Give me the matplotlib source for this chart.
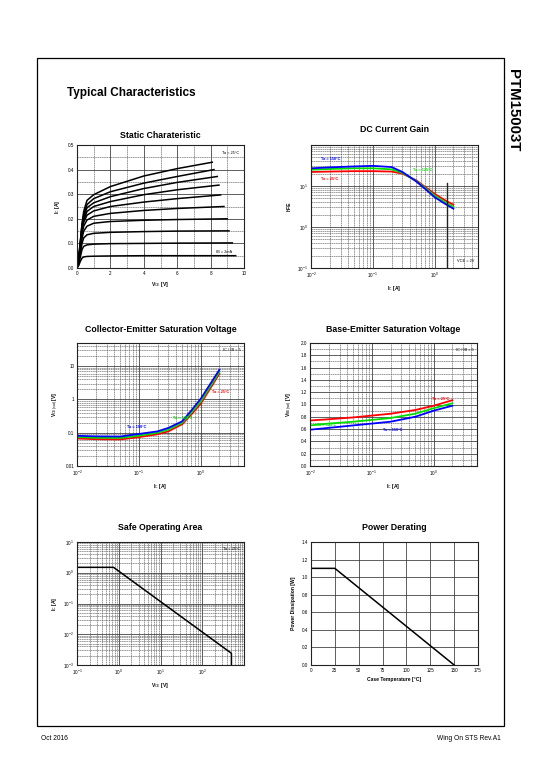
#Typical Characteristics page for PTM15003T
import numpy as np
import matplotlib
matplotlib.use("Agg")
import matplotlib.pyplot as plt
from matplotlib.patches import Rectangle
from matplotlib.ticker import LogLocator, NullFormatter, MultipleLocator, FixedLocator

plt.rcParams['font.family'] = ['Liberation Sans', 'DejaVu Sans']
plt.rcParams['mathtext.fontset'] = 'custom'
plt.rcParams['mathtext.rm'] = 'Liberation Sans'
plt.rcParams['mathtext.it'] = 'Liberation Sans:italic'
plt.rcParams['mathtext.bf'] = 'Liberation Sans:bold'

#Static characteristic, Ic vs Vce for Ib = 2..20 mA
vce = [0, 0.1, 0.2, 0.3, 0.4, 0.6, 1, 2, 4, 6]
ib_ma = [2, 4, 6, 8, 10, 12, 14, 16, 18, 20]
ic_static = [
    [0, 0.010, 0.027, 0.040, 0.045, 0.047, 0.048, 0.049, 0.050, 0.050],
    [0, 0.015, 0.045, 0.075, 0.088, 0.094, 0.097, 0.099, 0.100, 0.101],
    [0, 0.020, 0.060, 0.100, 0.122, 0.135, 0.141, 0.145, 0.148, 0.150],
    [0, 0.025, 0.070, 0.120, 0.150, 0.170, 0.182, 0.189, 0.194, 0.197],
    [0, 0.030, 0.080, 0.140, 0.170, 0.195, 0.210, 0.222, 0.234, 0.242],
    [0, 0.030, 0.090, 0.150, 0.185, 0.215, 0.232, 0.250, 0.268, 0.282],
    [0, 0.035, 0.095, 0.160, 0.195, 0.230, 0.250, 0.270, 0.298, 0.318],
    [0, 0.035, 0.100, 0.170, 0.205, 0.245, 0.265, 0.290, 0.323, 0.348],
    [0, 0.040, 0.105, 0.175, 0.215, 0.258, 0.282, 0.310, 0.345, 0.372],
    [0, 0.040, 0.110, 0.180, 0.230, 0.275, 0.298, 0.331, 0.374, 0.404],
]
vce_end = [9.5, 9.3, 9.1, 9.0, 8.8, 8.6, 8.5, 8.4, 8.2, 8.1]
ic_end = [0.050, 0.102, 0.151, 0.200, 0.250, 0.297, 0.337, 0.372, 0.400, 0.430]

#DC current gain
ic_hfe = [0.01, 0.02, 0.05, 0.1, 0.2, 0.3, 0.5, 0.7, 1, 1.5, 2]
hfe_150 = [27, 28.5, 30, 31, 29, 22, 13, 8.5, 5.3, 3.6, 2.8]
hfe_125 = [25, 26, 27, 27, 25.5, 21, 13.3, 9, 5.8, 3.9, 3.1]
hfe_25 = [22, 22.5, 23, 23, 22.5, 20, 13.8, 9.5, 6.4, 4.4, 3.5]

#Collector-emitter saturation voltage
ic_ce = [0.01, 0.02, 0.05, 0.1, 0.2, 0.3, 0.5, 0.7, 1, 1.5, 2]
vcesat_25 = [0.067, 0.064, 0.063, 0.074, 0.090, 0.11, 0.18, 0.35, 0.75, 2.5, 6.0]
vcesat_125 = [0.074, 0.071, 0.070, 0.082, 0.100, 0.125, 0.20, 0.40, 0.88, 2.9, 6.8]
vcesat_150 = [0.081, 0.078, 0.077, 0.092, 0.110, 0.14, 0.22, 0.46, 1.05, 3.4, 7.8]

#Base-emitter saturation voltage
ic_be = [0.01, 0.02, 0.05, 0.1, 0.2, 0.5, 1, 2]
vbesat_25 = [0.74, 0.76, 0.79, 0.82, 0.85, 0.91, 0.98, 1.07]
vbesat_125 = [0.66, 0.69, 0.72, 0.75, 0.78, 0.85, 0.94, 1.02]
vbesat_150 = [0.59, 0.62, 0.66, 0.69, 0.72, 0.80, 0.90, 0.98]

#Safe operating area
vce_soa = [0.1, 0.75, 500, 500]
ic_soa = [1.5, 1.5, 0.0024, 0.001]

#Power derating
tc = [0, 25, 150]
pd = [1.1, 1.1, 0.0]

RED = '#ff0000'
GREEN = '#00e000'
BLUE = '#0000ff'
TICK = 3.3
LAB = 3.6
NOTE = 2.8

W, H = 540, 780
fig = plt.figure(figsize=(5.4, 7.8), dpi=100)

def box(x0, y0, x1, y1):
    return [x0/W, 1-y1/H, (x1-x0)/W, (y1-y0)/H]

def ftext(x, y, s, **kw):
    fig.text(x/W, 1-y/H, s, **kw)

#page frame and header
fig.patches.append(Rectangle((37/W, 1-726/H), (504-37)/W, (726-58)/H, transform=fig.transFigure,
                             fill=False, lw=0.9, ec='black'))
ftext(513, 110, "PTM15003T", rotation=-90, fontsize=10.8, fontweight='bold', ha='center', va='center')
ftext(67, 93, "Typical Characteristics", fontsize=8.5, fontweight='bold', ha='left', va='center')
ftext(41, 738, "Oct 2016", fontsize=4.8, ha='left', va='center')
ftext(501, 738, "Wing On STS Rev.A1", fontsize=4.8, ha='right', va='center')

def style(ax, logx=False, logy=False):
    for s in ax.spines.values():
        s.set_linewidth(0.8)
        s.set_color('#222222')
    ax.tick_params(which='both', length=0, pad=2, labelsize=TICK)
    if logx:
        ax.set_xscale('log')
        ax.xaxis.set_minor_locator(LogLocator(base=10, subs=np.arange(2, 10)))
        ax.xaxis.set_minor_formatter(NullFormatter())
    if logy:
        ax.set_yscale('log')
        ax.yaxis.set_minor_locator(LogLocator(base=10, subs=np.arange(2, 10)))
        ax.yaxis.set_minor_formatter(NullFormatter())
    ax.grid(which='major', color='#333333', lw=0.55)
    ax.grid(which='minor', color='#555555', lw=0.4, ls=(0, (3, 1)))
    ax.set_axisbelow(True)

#1 static characteristic
ax1 = fig.add_axes(box(77, 145, 244, 268))
style(ax1)
ax1.set_xlim(0, 10)
ax1.set_ylim(0, 0.5)
ax1.xaxis.set_major_locator(MultipleLocator(2))
ax1.xaxis.set_minor_locator(MultipleLocator(1))
ax1.yaxis.set_major_locator(MultipleLocator(0.1))
ax1.yaxis.set_minor_locator(MultipleLocator(0.05))
ax1.yaxis.set_major_formatter(lambda v, p: f"{v:.1f}")
for k in range(len(ib_ma)):
    ax1.plot(vce + [vce_end[k]], ic_static[k] + [ic_end[k]], color='black', lw=1.1)
ax1.text(0.97, 0.95, "Ta = 25°C", transform=ax1.transAxes, fontsize=NOTE, ha='right', va='top')
ax1.text(0.93, 0.11, "IB = 2mA", transform=ax1.transAxes, fontsize=NOTE, ha='right', va='bottom')
ax1.set_xlabel(r"V$_{\mathrm{CE}}$ [V]", fontsize=LAB, fontweight='bold', labelpad=3)
ax1.set_ylabel(r"I$_{\mathrm{C}}$ [A]", fontsize=LAB, fontweight='bold', labelpad=4)
ftext(160.5, 135, "Static Charateristic", fontsize=6.3, fontweight='bold', ha='center', va='center')

#2 DC current gain
ax2 = fig.add_axes(box(311, 145, 478, 268))
style(ax2, True, True)
ax2.set_xlim(0.01, 5)
ax2.set_ylim(0.1, 100)
ax2.yaxis.set_major_locator(FixedLocator([0.1, 1, 10]))
ax2.plot(ic_hfe, hfe_25, color=RED, lw=1.3)
ax2.plot(ic_hfe, hfe_125, color=GREEN, lw=1.3)
ax2.plot(ic_hfe, hfe_150, color=BLUE, lw=1.3)
ax2.axvline(1.6, ymax=0.69, color='#222222', lw=1.0)
ax2.text(0.0146, 45, "Ta = 150°C", color=BLUE, fontsize=NOTE, fontweight='bold', va='center')
ax2.text(0.0146, 14.8, "Ta = 25°C", color=RED, fontsize=NOTE, fontweight='bold', va='center')
ax2.text(0.45, 24.5, "Ta = 125°C", color=GREEN, fontsize=NOTE, fontweight='bold', va='center')
ax2.text(0.98, 0.04, "VCE = 2V", transform=ax2.transAxes, fontsize=NOTE, ha='right', va='bottom')
ax2.set_xlabel(r"I$_{\mathrm{C}}$ [A]", fontsize=LAB, fontweight='bold', labelpad=3)
ax2.set_ylabel("hFE", fontsize=LAB, fontweight='bold', labelpad=4)
ftext(394.5, 129, "DC Current Gain", fontsize=6.3, fontweight='bold', ha='center', va='center')

#3 Collector-emitter saturation voltage
ax3 = fig.add_axes(box(77, 343, 244, 466))
style(ax3, True, True)
ax3.set_xlim(0.01, 5)
ax3.set_ylim(0.01, 50)
ax3.yaxis.set_major_locator(FixedLocator([0.01, 0.1, 1, 10]))
ax3.yaxis.set_major_formatter(lambda v, p: f"{v:g}")
ax3.plot(ic_ce, vcesat_25, color=RED, lw=1.3)
ax3.plot(ic_ce, vcesat_125, color=GREEN, lw=1.3)
ax3.plot(ic_ce, vcesat_150, color=BLUE, lw=1.3)
ax3.text(0.064, 0.15, "Ta = 150°C", color=BLUE, fontsize=NOTE, fontweight='bold', va='center')
ax3.text(0.35, 0.285, "Ta = 125°C", color=GREEN, fontsize=NOTE, fontweight='bold', va='center')
ax3.text(1.5, 1.63, "Ta = 25°C", color=RED, fontsize=NOTE, fontweight='bold', va='center')
ax3.text(0.98, 0.96, "IC / IB = 5", transform=ax3.transAxes, fontsize=NOTE, ha='right', va='top')
ax3.set_xlabel(r"I$_{\mathrm{C}}$ [A]", fontsize=LAB, fontweight='bold', labelpad=3)
ax3.set_ylabel(r"V$_{\mathrm{CE(sat)}}$ [V]", fontsize=LAB, fontweight='bold', labelpad=3)
ftext(160.5, 329, "Collector-Emitter Saturation Voltage", fontsize=6.3, fontweight='bold',
      ha='center', va='center')

#4 Base-emitter saturation voltage
ax4 = fig.add_axes(box(310, 343, 477, 466))
style(ax4, True, False)
ax4.set_xlim(0.01, 5)
ax4.set_ylim(0, 2.0)
ax4.yaxis.set_major_locator(MultipleLocator(0.2))
ax4.yaxis.set_minor_locator(MultipleLocator(0.1))
ax4.yaxis.set_major_formatter(lambda v, p: f"{v:.1f}")
ax4.plot(ic_be, vbesat_25, color=RED, lw=1.3)
ax4.plot(ic_be, vbesat_125, color=GREEN, lw=1.3)
ax4.plot(ic_be, vbesat_150, color=BLUE, lw=1.3)
ax4.text(0.93, 1.09, "Ta = 25°C", color=RED, fontsize=NOTE, fontweight='bold', va='center')
ax4.text(0.0129, 0.667, "Ta = 125°C", color=GREEN, fontsize=NOTE, fontweight='bold', va='center')
ax4.text(0.15, 0.585, "Ta = 150°C", color=BLUE, fontsize=NOTE, fontweight='bold', va='center')
ax4.text(0.98, 0.96, "IC / IB = 5", transform=ax4.transAxes, fontsize=NOTE, ha='right', va='top')
ax4.set_xlabel(r"I$_{\mathrm{C}}$ [A]", fontsize=LAB, fontweight='bold', labelpad=3)
ax4.set_ylabel(r"V$_{\mathrm{BE(sat)}}$ [V]", fontsize=LAB, fontweight='bold', labelpad=4)
ftext(393.5, 329, "Base-Emitter Saturation Voltage", fontsize=6.3, fontweight='bold',
      ha='center', va='center')

#5 Safe operating area
ax5 = fig.add_axes(box(77, 542, 244, 665))
style(ax5, True, True)
ax5.set_xlim(0.1, 1000)
ax5.set_ylim(0.001, 10)
ax5.xaxis.set_major_locator(FixedLocator([0.1, 1, 10, 100]))
ax5.plot(vce_soa, ic_soa, color='black', lw=1.1)
ax5.text(0.98, 0.96, "Ta = 25°C", transform=ax5.transAxes, fontsize=NOTE, ha='right', va='top')
ax5.set_xlabel(r"V$_{\mathrm{CE}}$ [V]", fontsize=LAB, fontweight='bold', labelpad=3)
ax5.set_ylabel(r"I$_{\mathrm{C}}$ [A]", fontsize=LAB, fontweight='bold', labelpad=3)
ftext(160.5, 528, "Safe Operating Area", fontsize=6.3, fontweight='bold', ha='center', va='center')

#6 Power derating
ax6 = fig.add_axes(box(311, 542, 478, 665))
style(ax6)
ax6.set_xlim(0, 175)
ax6.set_ylim(0, 1.4)
ax6.xaxis.set_major_locator(MultipleLocator(25))
ax6.yaxis.set_major_locator(MultipleLocator(0.2))
ax6.yaxis.set_major_formatter(lambda v, p: f"{v:.1f}")
ax6.grid(which='minor', visible=False)
ax6.plot(tc, pd, color='black', lw=1.1)
ax6.set_xlabel("Case Temperature [°C]", fontsize=LAB, fontweight='bold', labelpad=3)
ax6.set_ylabel("Power Dissipation [W]", fontsize=LAB, fontweight='bold', labelpad=4)
ftext(394.5, 528, "Power Derating", fontsize=6.3, fontweight='bold', ha='center', va='center')

fig.savefig("out.png", dpi=100)
